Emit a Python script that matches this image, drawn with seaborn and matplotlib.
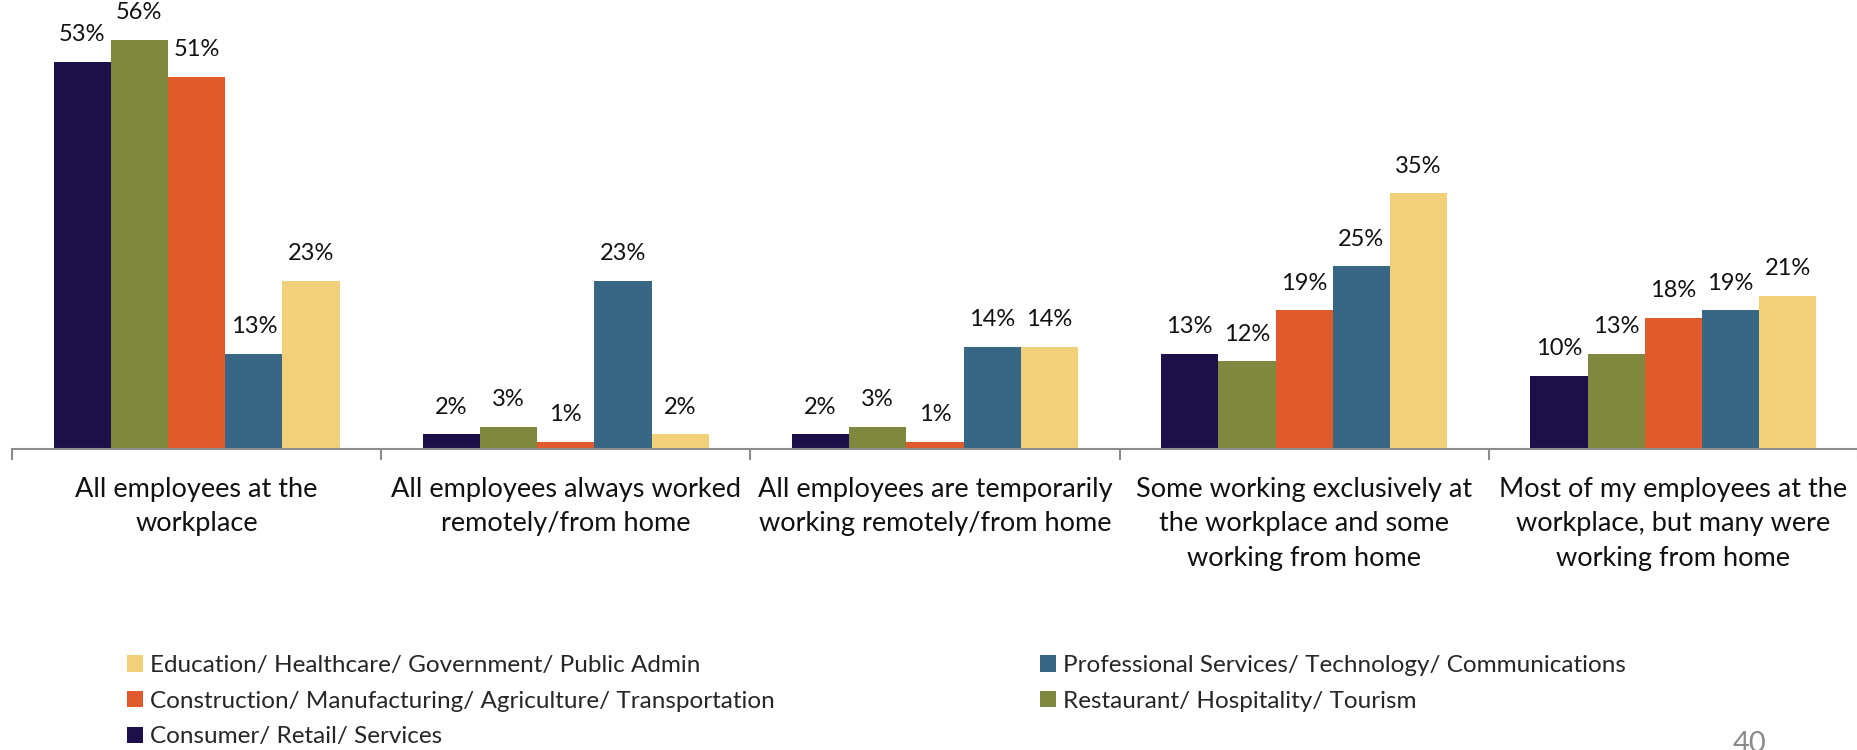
import matplotlib
matplotlib.use("Agg")
import matplotlib.pyplot as plt
import seaborn as sns
import pandas as pd
import numpy as np

# Workplace arrangement by industry sector (% of employers)
categories = [
    "All employees at the\nworkplace",
    "All employees always worked\nremotely/from home",
    "All employees are temporarily\nworking remotely/from home",
    "Some working exclusively at\nthe workplace and some\nworking from home",
    "Most of my employees at the\nworkplace, but many were\nworking from home",
]
sectors = [
    "Consumer/ Retail/ Services",
    "Restaurant/ Hospitality/ Tourism",
    "Construction/ Manufacturing/ Agriculture/ Transportation",
    "Professional Services/ Technology/ Communications",
    "Education/ Healthcare/ Government/ Public Admin",
]
consumer = [53, 2, 2, 13, 10]
restaurant = [56, 3, 3, 12, 13]
construction = [51, 1, 1, 19, 18]
professional = [13, 23, 14, 25, 19]
education = [23, 2, 14, 35, 21]
page_number = "40"

colors = ["#1C0F4A", "#80873F", "#E05A2C", "#376784", "#F2D07A"]

series = [consumer, restaurant, construction, professional, education]
df = pd.DataFrame(
    [(c, s, v) for s, vals in zip(sectors, series) for c, v in zip(categories, vals)],
    columns=["category", "sector", "value"],
)

sns.set_theme(style="white")
plt.rcParams["font.family"] = ["Lato", "DejaVu Sans"]

W, H = 1858, 750
fig = plt.figure(figsize=(W / 100, H / 100), dpi=100)
ax = fig.add_axes([12 / W, (H - 449) / H, 1 - 12 / W, 449 / H])

sns.barplot(
    data=df, x="category", y="value", hue="sector",
    order=categories, hue_order=sectors, palette=colors,
    width=0.775, gap=0, saturation=1, linewidth=0, ax=ax,
)
handles, labels = ax.get_legend_handles_labels()
ax.get_legend().remove()

for cont in ax.containers:
    ax.bar_label(cont, labels=[f"{int(round(v))}%" for v in cont.datavalues],
                 padding=12, fontsize=17, color="#111111")

ax.set_ylim(0, 61.5)
ax.set_xlim(-0.5, len(categories) - 0.5)
ax.set_yticks([])
ax.set_xlabel("")
ax.set_ylabel("")
for side in ["top", "right", "left"]:
    ax.spines[side].set_visible(False)
ax.spines["bottom"].set_color("#8c8c8c")
ax.spines["bottom"].set_linewidth(1.5)

# group separators as minor ticks, category names on major ticks
ax.set_xticks(np.arange(len(categories)))
ax.set_xticklabels(categories, fontsize=19.5, color="#111111", linespacing=1.48)
ax.set_xticks(np.arange(len(categories) + 1) - 0.5, minor=True)
ax.tick_params(axis="x", which="major", length=0, pad=20)
ax.tick_params(axis="x", which="minor", length=8, width=1.5, color="#8c8c8c",
               bottom=True)

# legend in two columns, reversed order
order_left = [4, 2, 0]
order_right = [3, 1]
common = dict(frameon=False, fontsize=17.5, handlelength=0.65, handleheight=0.65,
              handletextpad=0.3, labelspacing=0.6, borderpad=0, borderaxespad=0)
leg1 = fig.legend([handles[i] for i in order_left], [labels[i] for i in order_left],
                  loc="upper left", bbox_to_anchor=(127 / W, 1 - 655 / H), **common)
leg2 = fig.legend([handles[i] for i in order_right], [labels[i] for i in order_right],
                  loc="upper left", bbox_to_anchor=(1040 / W, 1 - 655 / H), **common)

fig.text(1733 / W, 1 - 731 / H, page_number, fontsize=21, color="#8a8a8a",
         ha="left", va="top")

fig.savefig("out.png", dpi=100)
